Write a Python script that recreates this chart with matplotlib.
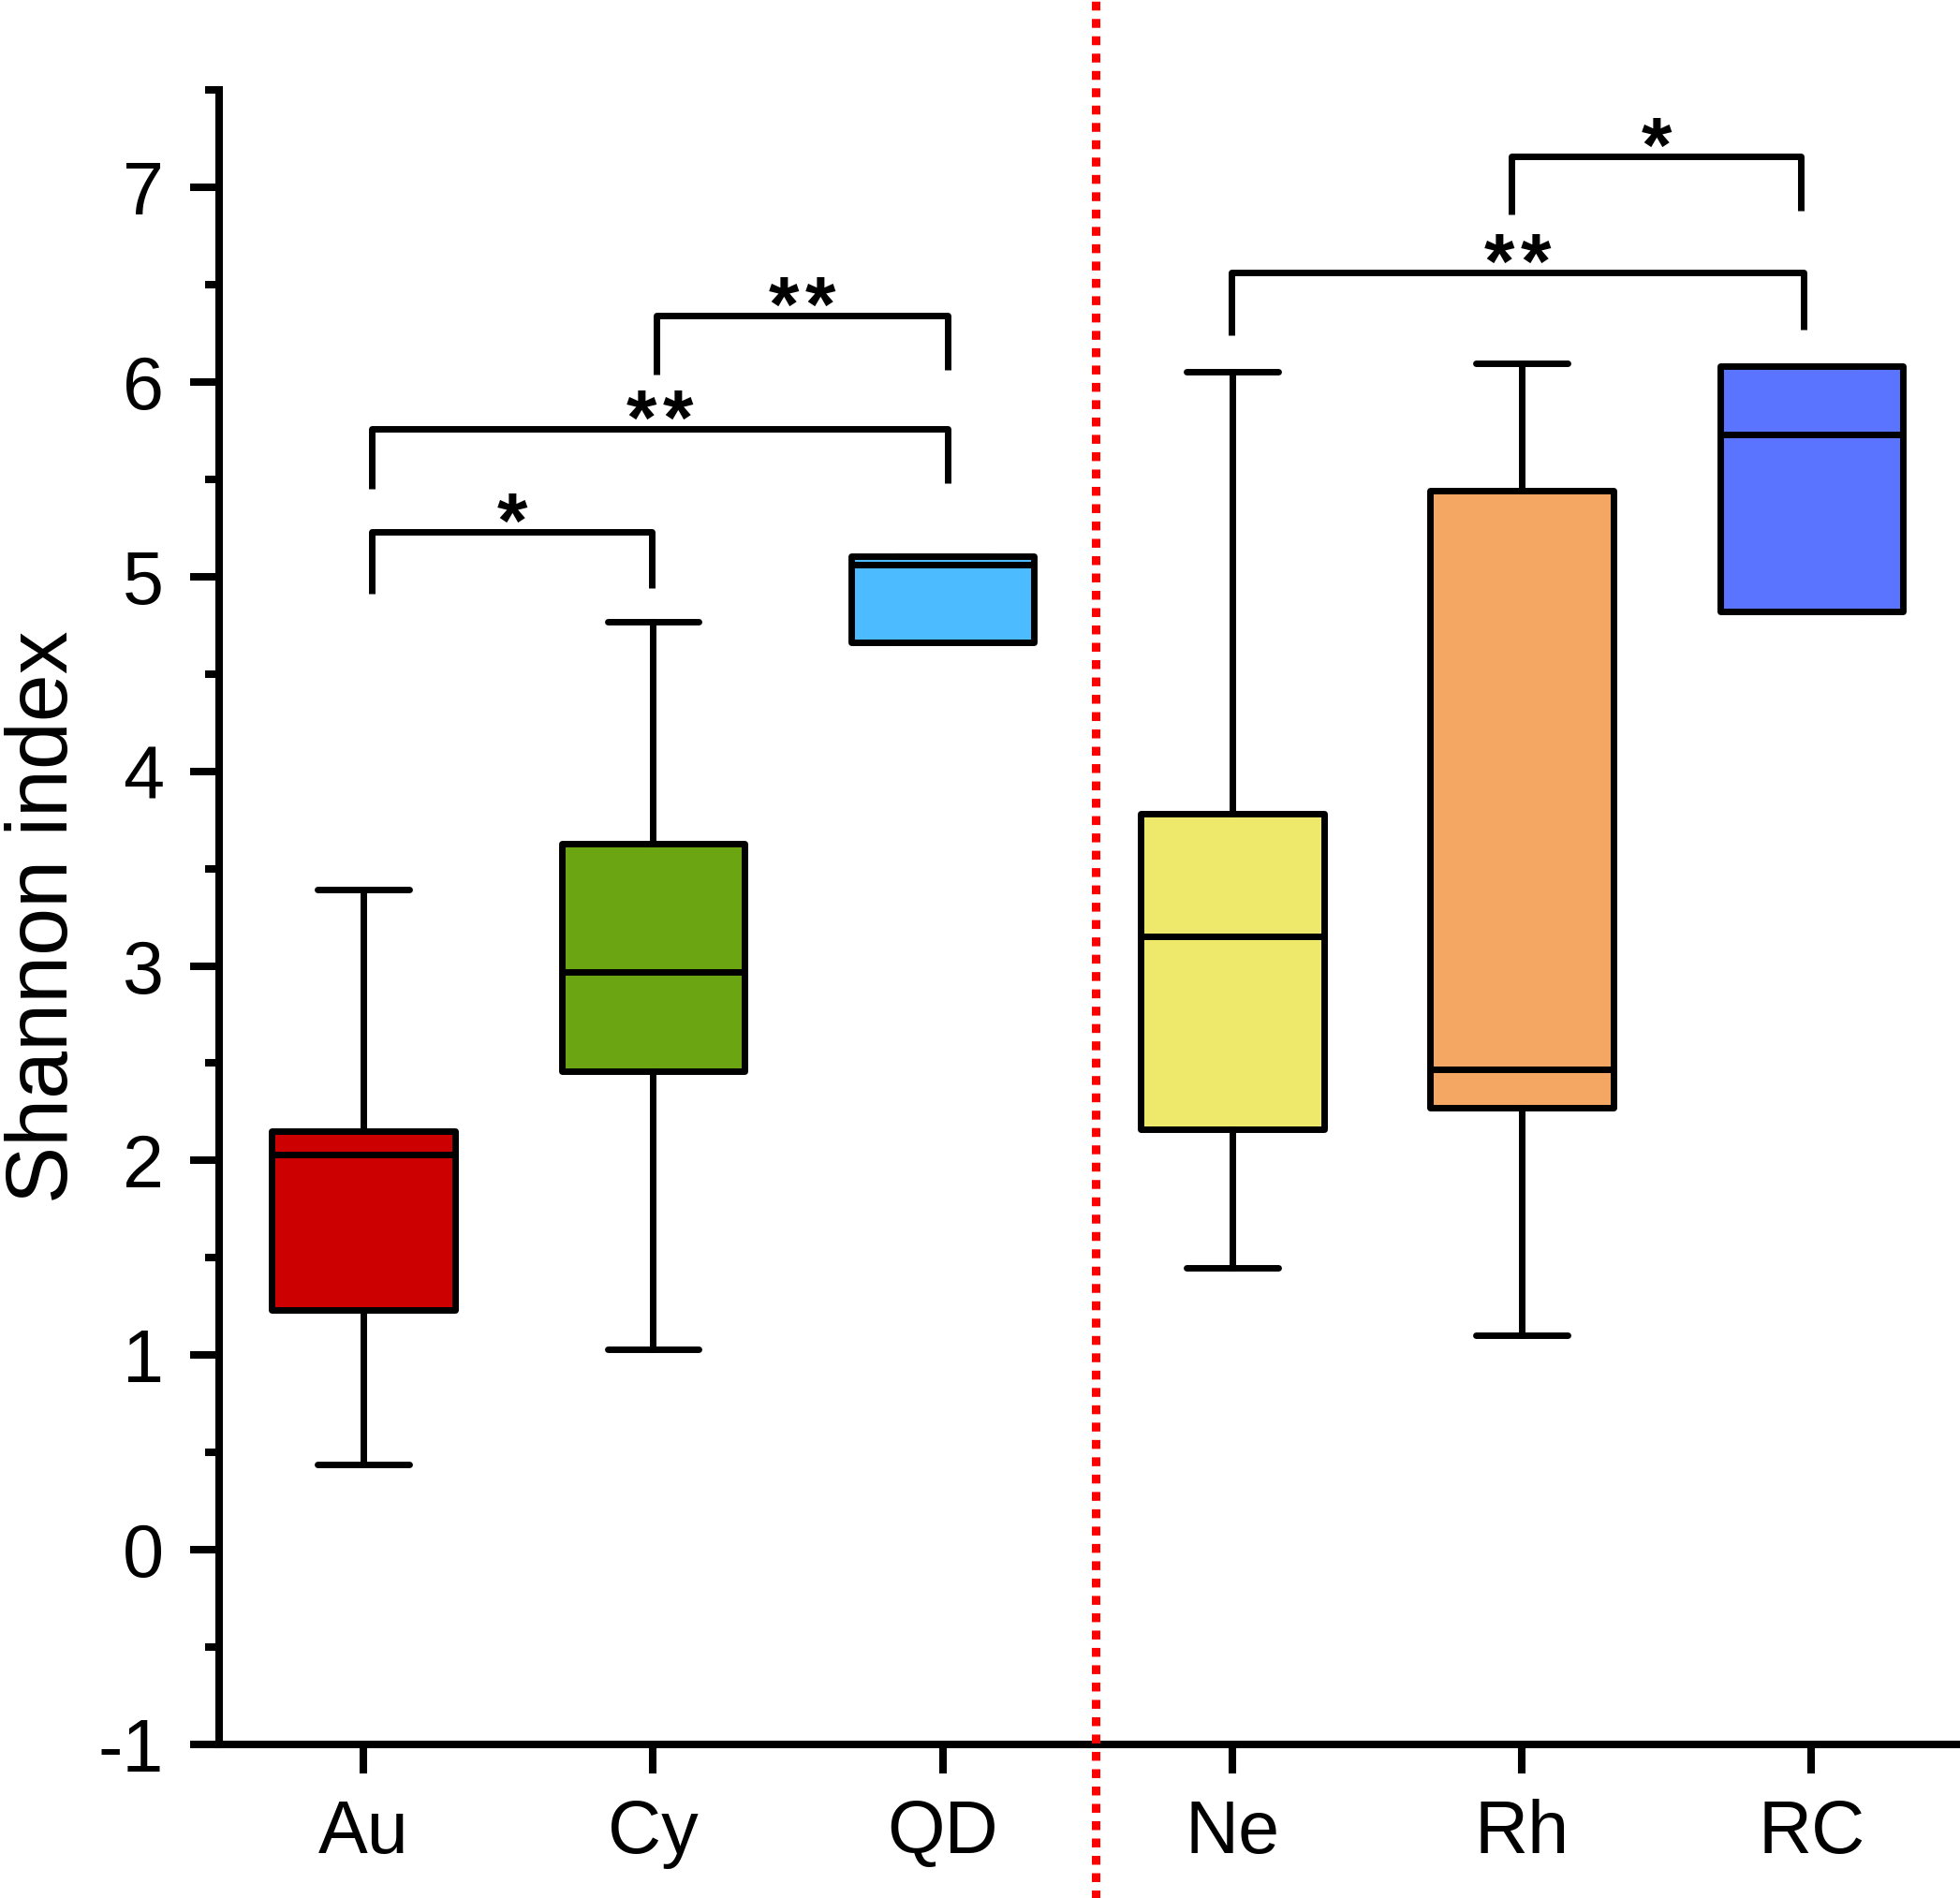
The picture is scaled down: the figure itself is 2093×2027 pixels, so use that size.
import matplotlib
matplotlib.use("Agg")
import matplotlib.pyplot as plt
from matplotlib.ticker import MultipleLocator

plt.rcParams['font.family'] = ['Liberation Sans', 'DejaVu Sans']
plt.rcParams['axes.unicode_minus'] = False

# groups and box statistics
groups = ['Au', 'Cy', 'QD', 'Ne', 'Rh', 'RC']
whis_lo = [0.44, 1.03, 4.66, 1.45, 1.10, 4.82]
q1 = [1.23, 2.46, 4.66, 2.16, 2.27, 4.82]
med = [2.03, 2.97, 5.06, 3.15, 2.47, 5.73]
q3 = [2.15, 3.63, 5.105, 3.78, 5.44, 6.08]
whis_hi = [3.39, 4.77, 5.105, 6.05, 6.095, 6.08]
colors = ['#CC0000', '#6BA512', '#4DBBFF', '#EEE86B', '#F4A663', '#5B74FF']

# significance brackets: left x, right x, bar height, left leg end, right leg end, label
br_x1 = [1.03, 1.03, 2.013, 3.996, 4.965]
br_x2 = [1.996, 3.017, 3.017, 5.974, 5.965]
br_y = [5.23, 5.76, 6.34, 6.56, 7.16]
br_l1 = [4.91, 5.45, 6.04, 6.24, 6.86]
br_l2 = [4.94, 5.48, 6.06, 6.27, 6.88]
br_lab = ['*', '**', '**', '**', '*']

split_x = 3.527

fig = plt.figure(figsize=(20.93, 20.27), dpi=100)
ax = fig.add_axes([0.1116, 0.0809, 0.8864, 0.8717])

stats = []
for i, g in enumerate(groups):
    stats.append({'label': g, 'whislo': whis_lo[i], 'q1': q1[i], 'med': med[i],
                  'q3': q3[i], 'whishi': whis_hi[i], 'fliers': []})

lw = 5.0
bp = ax.bxp(stats, positions=range(1, 7), widths=0.632, capwidths=0.316,
            patch_artist=True, showfliers=False,
            boxprops=dict(linewidth=lw, edgecolor='black', joinstyle='round'),
            medianprops=dict(linewidth=lw, color='black', solid_capstyle='butt'),
            whiskerprops=dict(linewidth=lw, color='black'),
            capprops=dict(linewidth=lw, color='black', solid_capstyle='round'))
for patch, c in zip(bp['boxes'], colors):
    patch.set_facecolor(c)

# brackets, stars spaced out a little like the original
pitch = 28  # points between star centres
for x1, x2, y, l1, l2, lab in zip(br_x1, br_x2, br_y, br_l1, br_l2, br_lab):
    ax.plot([x1, x1, x2, x2], [l1, y, y, l2], color='black', lw=5.0,
            solid_joinstyle='round', solid_capstyle='butt', clip_on=False)
    n = len(lab)
    for k in range(n):
        dx = (k - (n - 1) / 2) * pitch
        ax.annotate('*', xy=((x1 + x2) / 2, y), xytext=(dx, -12),
                    textcoords='offset points', ha='center', va='baseline',
                    fontsize=60, fontweight='bold')

# dotted separator
ax.axvline(split_x, ymin=-0.1, ymax=1.1, color='#FF0000', lw=6.5,
           linestyle=(0, (1.05, 1.0)), dash_capstyle='butt', clip_on=False, zorder=5)

ax.set_xlim(0.5, 6.5)
ax.set_ylim(-1, 7.5)
ax.set_xticks(range(1, 7))
ax.set_xticklabels(groups)
ax.yaxis.set_major_locator(MultipleLocator(1))
ax.yaxis.set_minor_locator(MultipleLocator(0.5))

for s in ['top', 'right']:
    ax.spines[s].set_visible(False)
for s in ['left', 'bottom']:
    ax.spines[s].set_linewidth(5.8)

ax.tick_params(axis='both', which='major', length=22, width=5.8, labelsize=57)
ax.tick_params(axis='y', which='major', pad=20)
ax.tick_params(axis='x', which='major', pad=20)
ax.tick_params(axis='y', which='minor', length=11, width=5.8)

ax.set_ylabel('Shannon index', fontsize=66)
ax.yaxis.set_label_coords(-0.077, 0.5)

fig.savefig('out.png', dpi=100)
